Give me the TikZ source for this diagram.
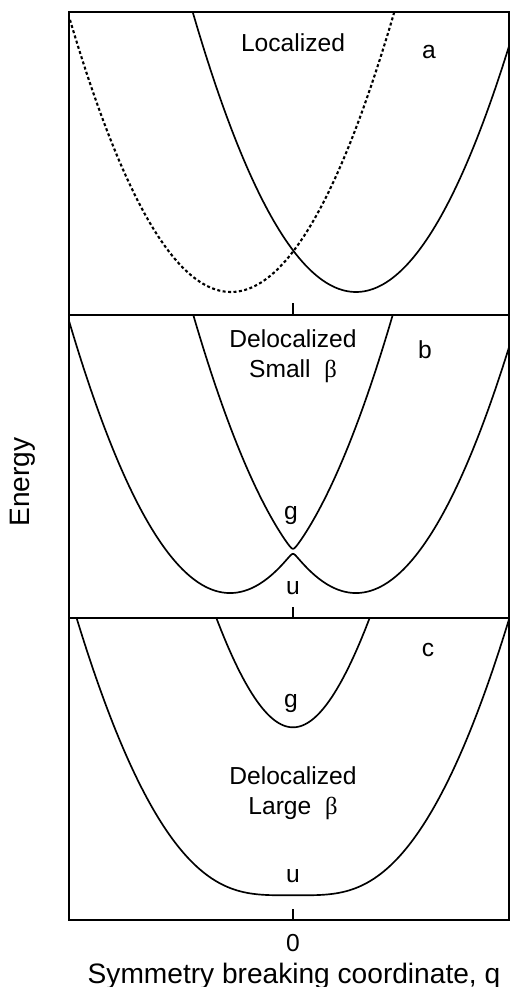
\documentclass[tikz,border=0pt]{standalone}
\usepackage{fontspec}
\setmainfont{Liberation Sans}
\newfontfamily\greekfont{Liberation Serif}

\begin{document}
\begin{tikzpicture}[x=0.2cm, y=0.2cm,
  declare function={dia(\x)=0.105*\x*\x;
    gsta(\x,\b)=0.105*(\x*\x+39.69)+sqrt(1.7503*\x*\x+\b*\b);
    usta(\x,\b)=0.105*(\x*\x+39.69)-sqrt(1.7503*\x*\x+\b*\b);},
  frame/.style={line width=1.1pt},
  curve/.style={line width=0.95pt},
  dotline/.style={line width=1.2pt, dash pattern=on 1.7pt off 1.4pt},
  lbl/.style={inner sep=0pt, font=\fontsize{14}{17}\selectfont},
  axlbl/.style={inner sep=0pt, font=\fontsize{16}{19}\selectfont}]
\useasboundingbox (0,0) rectangle (51,98.7);

% Marco de los tres paneles
\coordinate (BL) at (6.9,6.7);
\coordinate (TR) at (50.9,97.5);
\coordinate (C0) at (29.3,6.7);
\coordinate (C1) at (29.3,36.9);
\coordinate (C2) at (29.3,67.2);

\draw[frame] (BL) rectangle (TR);
\draw[frame] (6.9,36.9) -- (50.9,36.9);
\draw[frame] (6.9,67.2) -- (50.9,67.2);
\draw[curve] (C0) -- ++(0,1.1);
\draw[curve] (C1) -- ++(0,1.1);
\draw[curve] (C2) -- ++(0,1.2);

% a: localizado
\begin{scope}
\clip (6.9,67.2) rectangle (50.9,97.5);
\draw[curve, dotline] plot[domain=-16.1:17, samples=121] ({23.1+\x},{69.5+dia(\x)});
\draw[curve] plot[domain=-17:17, samples=121] ({35.6+\x},{69.5+dia(\x)});
\end{scope}

% b: beta pequeno
\begin{scope}
\clip (6.9,36.9) rectangle (50.9,67.2);
\draw[curve] plot[domain=-23:23, samples=461] ({29.3+\x},{39.4+usta(\x,0.25)});
\draw[curve] plot[domain=-12:12, samples=241] ({29.3+\x},{39.4+gsta(\x,0.25)});
\end{scope}

% c: beta grande
\begin{scope}
\clip (6.9,6.7) rectangle (50.9,36.9);
\draw[curve] plot[domain=-23:23, samples=231] ({29.3+\x},{13.4+usta(\x,8.4)});
\draw[curve] plot[domain=-10:10, samples=121] ({29.3+\x},{13.4+gsta(\x,8.4)});
\end{scope}

% Etiquetas
\node[lbl] (loc) at (29.3,94.4) {Localized};
\node[lbl] (tagA) at (42.9,93.5) {a};
\node[lbl] (deloB) at (29.3,64.8) {Delocalized};
\node[lbl] (smallB) at (29.3,61.6) {Small\ \ {\greekfont β}};
\node[lbl] (tagB) at (42.5,63.7) {b};
\node[lbl] (gB) at (29.1,47.2) {g};
\node[lbl] (uB) at (29.3,39.9) {u};
\node[lbl] (tagC) at (42.8,33.7) {c};
\node[lbl] (gC) at (29.1,28.4) {g};
\node[lbl] (deloC) at (29.3,21.1) {Delocalized};
\node[lbl] (largeC) at (29.3,17.9) {Large\ \ {\greekfont β}};
\node[lbl] (uC) at (29.3,11.1) {u};
\node[lbl] (zero) at (29.3,4.4) {0};
\node[axlbl] (xlab) at (29.4,1.1) {Symmetry breaking coordinate, q};
\node[axlbl, rotate=90] (ylab) at (2.3,50.5) {Energy};
\end{tikzpicture}
\end{document}
